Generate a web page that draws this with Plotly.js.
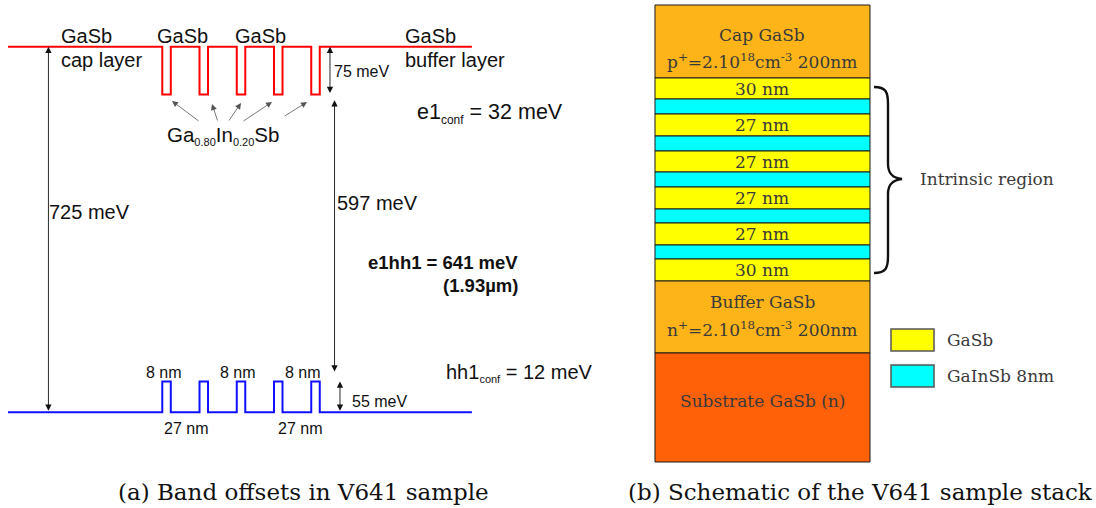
<!DOCTYPE html>
<html><head><meta charset="utf-8">
<script src="https://cdn.plot.ly/plotly-3.0.1.min.js"></script>
<style>html,body{margin:0;padding:0;background:#fff}#chart{width:1096px;height:508px}</style>
</head><body><div id="chart"></div>
<script>
// ---------------- (a) Band offsets: schematic profile, as drawn ----------------
const bandX          = [0, 145, 153, 180, 188, 215, 223, 250, 258, 285, 293, 436]; // interfaces along growth (nm, drawn)
const conductionBand = [725, 630, 725, 630, 725, 630, 725, 630, 725, 630, 725, 725]; // drawn level (meV scale)
const valenceBand    = [0, 61, 0, 61, 0, 61, 0, 61, 0, 61, 0, 0];

// dimension arrows (drawn positions on the band axes)
const dimX    = [38, 302.6, 306.9, 312];
const dimFrom = [0, 630, 78, 0];
const dimTo   = [725, 725, 619, 61];

// ---------------- (b) Sample stack, top to bottom ----------------
const stackMaterial = ['doped', 'GaSb', 'GaInSb', 'GaSb', 'GaInSb', 'GaSb', 'GaInSb', 'GaSb', 'GaInSb', 'GaSb', 'GaInSb', 'GaSb', 'doped', 'substrate'];
const stackLabel    = ['', '30 nm', '', '27 nm', '', '27 nm', '', '27 nm', '', '27 nm', '', '30 nm', '', 'Substrate GaSb (n)'];
const stackHeight   = [73, 21, 15, 22, 15, 21, 15, 22, 14, 22, 14, 22, 72, 109]; // drawn thickness (schematic)
const capLines      = ['Cap GaSb', 'p<sup>+</sup>=2.10<sup>18</sup>cm<sup>-3</sup> 200nm'];
const bufferLines   = ['Buffer GaSb', 'n<sup>+</sup>=2.10<sup>18</sup>cm<sup>-3</sup> 200nm'];
const legendNames   = ['GaSb', 'GaInSb 8nm'];
const legendMat     = ['GaSb', 'GaInSb'];

// ---------------- styling ----------------
const SANS = 'Liberation Sans, Arial, sans-serif';
const SERIF = 'DejaVu Serif, serif';
const matColor = {doped: '#fdb418', GaSb: '#ffff00', GaInSb: '#00ffff', substrate: '#ff6109'};
const W = 1096, H = 508;
const P = (px, py) => ({x: px / W, y: 1 - py / H});

// bases (from the bottom of the stack)
const n = stackHeight.length;
const stackBase = new Array(n);
let acc = 0;
for (let i = n - 1; i >= 0; i--) { stackBase[i] = acc; acc += stackHeight[i]; }
const centerOf = i => stackBase[i] + stackHeight[i] / 2;

const traces = [
  {x: bandX, y: conductionBand, xaxis: 'x', yaxis: 'y', type: 'scatter', mode: 'lines',
   line: {shape: 'hv', color: '#ff0000', width: 2}, hoverinfo: 'skip'},
  {x: bandX, y: valenceBand, xaxis: 'x', yaxis: 'y', type: 'scatter', mode: 'lines',
   line: {shape: 'hv', color: '#1010ff', width: 2}, hoverinfo: 'skip'},
  {x: stackHeight.map(() => 0), y: stackHeight, base: stackBase, width: 1, xaxis: 'x2', yaxis: 'y2', type: 'bar',
   marker: {color: stackMaterial.map(m => matColor[m]), line: {color: '#1a1a1a', width: 1}}, hoverinfo: 'skip'}
];

const ann = [];
const sansTxt = (px, py, text, size, extra) => ann.push(Object.assign({xref: 'paper', yref: 'paper', ...P(px - 3, py), text,
  showarrow: false, xanchor: 'left', yanchor: 'middle', font: {family: SANS, size: size, color: '#111'}}, extra || {}));
const SUB = (s, fs) => '<sub><span style="font-size:' + (fs || 11) + 'px">' + s + '</span></sub>';

sansTxt(62, 36, 'GaSb', 20);
sansTxt(62, 60, 'cap layer', 20);
sansTxt(158, 36, 'GaSb', 20);
sansTxt(236, 36, 'GaSb', 20);
sansTxt(406, 36, 'GaSb', 20);
sansTxt(406, 60, 'buffer layer', 20);
sansTxt(50, 212, '725 meV', 20);
sansTxt(335, 72, '75 meV', 16);
sansTxt(338, 203, '597 meV', 20);
sansTxt(353, 401.5, '55 meV', 16);
sansTxt(418, 113, 'e1' + SUB('conf', 12) + ' = 32 meV', 21.5);
sansTxt(447, 373, 'hh1' + SUB('conf') + ' = 12 meV', 20);
sansTxt(369, 262, '<b>e1hh1 = 641 meV</b>', 18.5);
sansTxt(444, 285, '<b>(1.93µm)</b>', 18.5);
sansTxt(168, 136, 'Ga' + SUB('0.80') + 'In' + SUB('0.20') + 'Sb', 20.5);
[164, 238, 302.5].forEach(px => sansTxt(px + 3, 372, '8 nm', 16, {xanchor: 'center'}));
[186, 300].forEach(px => sansTxt(px + 3, 428, '27 nm', 16, {xanchor: 'center'}));

// gray pointer arrows from the alloy label to the wells
const ptrHead = [[172, 101], [212, 104], [241, 103], [272, 102], [307, 102]];
const ptrTail = [[200, 122], [218, 122], [228, 122], [242, 122], [283, 117]];
ptrHead.forEach((h, i) => ann.push({xref: 'paper', yref: 'paper', ...P(h[0], h[1]), text: '', showarrow: true,
  axref: 'pixel', ayref: 'pixel', ax: ptrTail[i][0] - h[0], ay: ptrTail[i][1] - h[1],
  arrowhead: 2, arrowsize: 1.5, arrowwidth: 0.8, arrowcolor: '#555', standoff: 0}));

// dimension arrows
dimX.forEach((x, i) => ann.push({xref: 'x', yref: 'y', x: x, y: dimTo[i], axref: 'x', ayref: 'y', ax: x, ay: dimFrom[i],
  text: '', showarrow: true, arrowside: 'end+start', arrowhead: 2, startarrowhead: 2, arrowsize: 1.4, startarrowsize: 1.4,
  arrowwidth: 0.9, arrowcolor: '#111', standoff: 0, startstandoff: 0}));

// stack labels
const serifTxt = (y, text) => ann.push({xref: 'x2', yref: 'y2', x: 0, y: y, text, showarrow: false,
  xanchor: 'center', yanchor: 'middle', font: {family: SERIF, size: 17, color: '#3a3a3a'}});
stackLabel.forEach((t, i) => { if (t) serifTxt(centerOf(i) + (stackMaterial[i] === 'substrate' ? 6.5 : 0), t); });
serifTxt(centerOf(0) + 6.5, capLines[0]);
serifTxt(centerOf(0) - 19, capLines[1]);
serifTxt(centerOf(12) + 15, bufferLines[0]);
serifTxt(centerOf(12) - 12, bufferLines[1]);

ann.push({xref: 'paper', yref: 'paper', ...P(918, 179), text: 'Intrinsic region', showarrow: false, xanchor: 'left', yanchor: 'middle',
  font: {family: SERIF, size: 17, color: '#3a3a3a'}});
legendNames.forEach((t, i) => ann.push({xref: 'paper', yref: 'paper', ...P(945, 340 + 36 * i), text: t, showarrow: false,
  xanchor: 'left', yanchor: 'middle', font: {family: SERIF, size: 17, color: '#3a3a3a'}}));

// captions
ann.push({xref: 'paper', yref: 'paper', ...P(303, 492), text: '(a) Band offsets in V641 sample', showarrow: false,
  xanchor: 'center', yanchor: 'middle', font: {family: SERIF, size: 23, color: '#111'}});
ann.push({xref: 'paper', yref: 'paper', ...P(860, 492), text: '(b) Schematic of the V641 sample stack', showarrow: false,
  xanchor: 'center', yanchor: 'middle', font: {family: SERIF, size: 23, color: '#111'}});

// shapes: brace and legend swatches
const pt = (px, py) => { const q = P(px, py); return q.x.toFixed(5) + ',' + q.y.toFixed(5); };
const bracePath = 'M' + pt(874, 87) + ' C' + pt(886, 87) + ' ' + pt(888, 92) + ' ' + pt(888, 104) +
  ' L' + pt(888, 164) + ' C' + pt(888, 174) + ' ' + pt(893, 178) + ' ' + pt(902, 179) +
  ' C' + pt(893, 180) + ' ' + pt(888, 184) + ' ' + pt(888, 194) +
  ' L' + pt(888, 256) + ' C' + pt(888, 268) + ' ' + pt(886, 273) + ' ' + pt(874, 273);
const shapes = [{type: 'path', xref: 'paper', yref: 'paper', path: bracePath, line: {color: '#111', width: 2.4}}];
legendMat.forEach((m, i) => {
  const a = P(891, 329 + 36 * i), b = P(934, 351 + 36 * i);
  shapes.push({type: 'rect', xref: 'paper', yref: 'paper', x0: a.x, y0: a.y, x1: b.x, y1: b.y,
    fillcolor: matColor[m], line: {color: '#555', width: 1.5}});
});

const hidden = {visible: false, fixedrange: true};
const layout = {
  width: W, height: H, margin: {l: 0, r: 0, t: 0, b: 0},
  paper_bgcolor: '#fff', plot_bgcolor: 'rgba(0,0,0,0)', showlegend: false,
  xaxis: Object.assign({domain: [0, 1], range: [-7.519, 1022.56]}, hidden),
  yaxis: Object.assign({domain: [0, 1], range: [-189.78, 817.6]}, hidden),
  xaxis2: Object.assign({domain: [0, 1], range: [-3.5465, 1.5512], overlaying: 'x', anchor: 'y2'}, hidden),
  yaxis2: Object.assign({domain: [0, 1], range: [-46, 462], overlaying: 'y', anchor: 'x2'}, hidden),
  annotations: ann, shapes: shapes
};
Plotly.newPlot('chart', traces, layout, {staticPlot: true, displayModeBar: false});
</script></body></html>
